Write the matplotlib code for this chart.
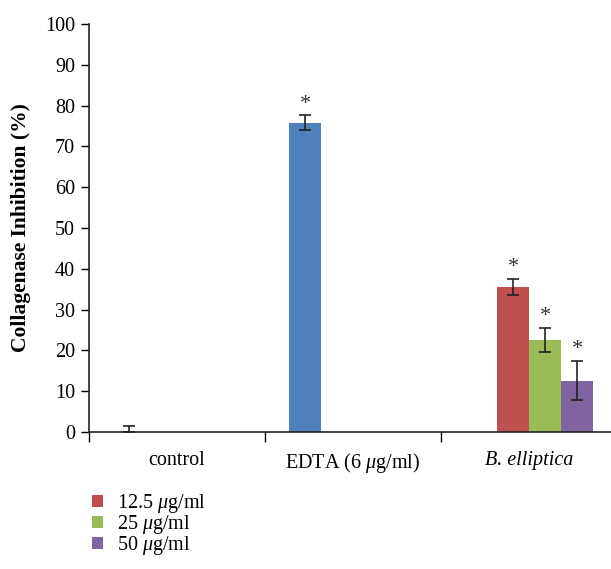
import numpy as np
import matplotlib
matplotlib.use("Agg")
import matplotlib.pyplot as plt
from matplotlib.patches import Patch

plt.rcParams['font.family'] = ['Liberation Serif', 'DejaVu Serif']
plt.rcParams['mathtext.fontset'] = 'custom'
plt.rcParams['mathtext.rm'] = 'Liberation Serif'
plt.rcParams['mathtext.it'] = 'Liberation Serif:italic'

groups = ['control', r'EDTA (6 $\mathit{\mu}$g/ml)', 'B. elliptica']
series = ['EDTA', r'12.5 $\mathit{\mu}$g/ml', r'25 $\mathit{\mu}$g/ml', r'50 $\mathit{\mu}$g/ml']
colors = ['#4F81BD', '#C0504D', '#9BBB59', '#8064A2']

# inhibition (%) per series, one value per group (nan = no bar)
blue_vals = [0.0, 75.8, np.nan]
red_vals = [np.nan, np.nan, 35.6]
green_vals = [np.nan, np.nan, 22.6]
purple_vals = [np.nan, np.nan, 12.6]

blue_err = [1.5, 1.8, np.nan]
red_err = [np.nan, np.nan, 2.0]
green_err = [np.nan, np.nan, 3.0]
purple_err = [np.nan, np.nan, 4.8]

# significance markers
stars = [[False, True, False], [False, False, True], [False, False, True], [False, False, True]]

vals = [blue_vals, red_vals, green_vals, purple_vals]
errs = [blue_err, red_err, green_err, purple_err]

fig = plt.figure(figsize=(6.11, 5.69), dpi=100)
ax = fig.add_axes([89 / 611, (569 - 432) / 569, 528 / 611, 408 / 569])

w = 32 / 176
x = np.arange(3) + 0.5
for i, (v, e, c) in enumerate(zip(vals, errs, colors)):
    xs = x + (i - 1.5) * w
    v = np.array(v)
    e = np.array(e)
    ax.bar(xs, v, width=w, color=c, zorder=2)
    lower = np.where(v == 0, 0, e)
    ax.errorbar(xs, v, yerr=[lower, e], fmt='none', ecolor='#222222',
                elinewidth=1.2, capsize=4, capthick=1.2, zorder=3)
    for j in range(3):
        if stars[i][j]:
            ax.text(xs[j], v[j] + e[j] + 0.4, '*', ha='center', va='bottom',
                    fontsize=16, color='#333333')

ax.set_xlim(0, 3)
ax.set_ylim(0, 100)
ax.set_yticks(np.arange(0, 101, 10))
ax.set_xticks([0, 1, 2])
ax.set_xticklabels([])
ax.set_xticks(x, minor=True)
ax.set_xticklabels(groups, minor=True, fontsize=14.5)
ax.get_xticklabels(minor=True)[2].set_fontstyle('italic')
ax.tick_params(axis='x', which='minor', length=0, pad=14)
ax.tick_params(axis='x', which='major', length=7, width=1, direction='out')
ax.tick_params(axis='y', length=6, width=1, direction='out', labelsize=14.5, pad=4)
for s in ['top', 'right']:
    ax.spines[s].set_visible(False)
for s in ['left', 'bottom']:
    ax.spines[s].set_linewidth(1.2)
    ax.spines[s].set_color('#222222')
ax.set_ylabel('Collagenase Inhibition (%)', fontsize=15.5, fontweight='bold', labelpad=10)

handles = [Patch(facecolor=c) for c in colors[1:]]
fig.legend(handles, series[1:], loc='upper left', bbox_to_anchor=(84 / 611, 1 - 484 / 569),
           frameon=False, fontsize=14.5, handlelength=0.55, handleheight=0.55,
           handletextpad=0.7, labelspacing=-0.1, borderaxespad=0)

fig.savefig('out.png', dpi=100)
